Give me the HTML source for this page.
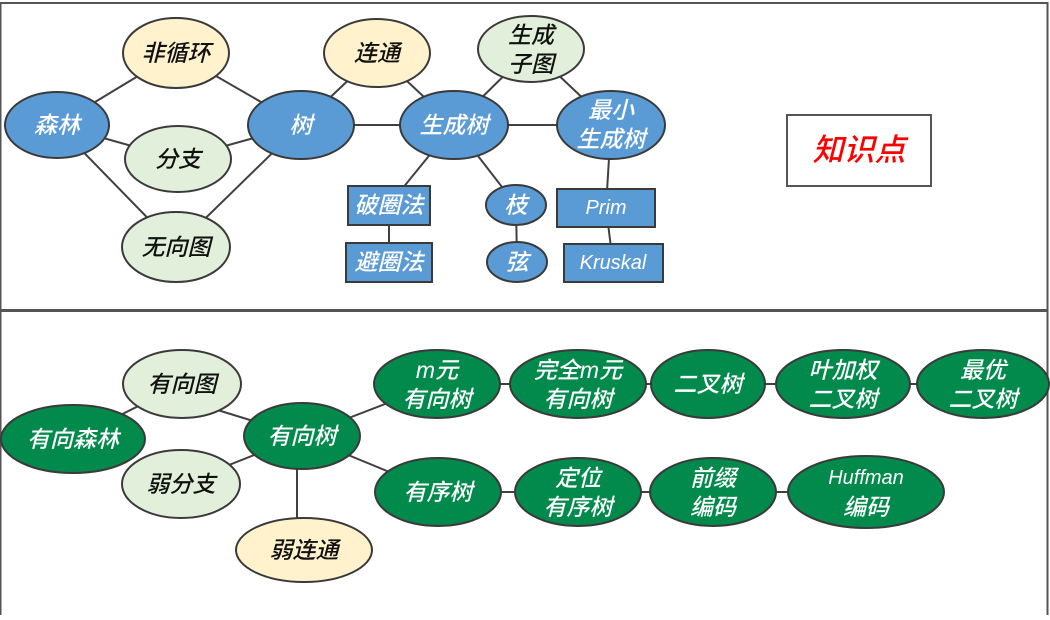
<!DOCTYPE html>
<html><head><meta charset="utf-8"><style>
body{margin:0;background:#fff;width:1050px;height:615px;overflow:hidden}
svg text{font-family:"Liberation Sans","Noto Sans CJK SC",sans-serif;font-style:italic;font-weight:500;font-size:23px;text-anchor:middle;dominant-baseline:central}
.w{fill:#fff}.k{fill:#111}
.b{fill:#5b9bd5;stroke:#3a3a3a;stroke-width:2}
.y{fill:#fff2cc;stroke:#3a3a3a;stroke-width:2}
.g{fill:#e2efda;stroke:#3a3a3a;stroke-width:2}
.n{fill:#018a4b;stroke:#3a3a3a;stroke-width:2}
line{stroke:#404040;stroke-width:2}
</style></head><body>
<svg width="1050" height="615" xmlns="http://www.w3.org/2000/svg">
<rect x="0.5" y="3" width="1047" height="307" fill="none" stroke="#555" stroke-width="2"/>
<rect x="0.5" y="311" width="1047" height="306" fill="none" stroke="#555" stroke-width="2"/>
<line x1="57" y1="125" x2="176" y2="53"/><line x1="57" y1="125" x2="178" y2="159"/><line x1="57" y1="125" x2="176" y2="247"/>
<line x1="301" y1="125" x2="176" y2="53"/><line x1="301" y1="125" x2="178" y2="159"/><line x1="301" y1="125" x2="176" y2="247"/>
<line x1="301" y1="125" x2="377" y2="53"/><line x1="301" y1="125" x2="454" y2="125"/><line x1="377" y1="53" x2="454" y2="125"/>
<line x1="531" y1="49" x2="454" y2="125"/><line x1="531" y1="49" x2="611" y2="125"/><line x1="454" y1="125" x2="611" y2="125"/>
<line x1="454" y1="125" x2="389" y2="205"/><line x1="454" y1="125" x2="516" y2="205"/>
<line x1="389" y1="205" x2="389" y2="262"/><line x1="516" y1="205" x2="517" y2="262"/>
<line x1="611" y1="125" x2="606" y2="208"/><line x1="606" y1="208" x2="613" y2="263"/>
<ellipse class="b" cx="57" cy="125" rx="52" ry="33"/><text class="w" x="57" y="125">森林</text>
<ellipse class="y" cx="176" cy="53" rx="53" ry="35"/><text class="k" x="176" y="53">非循环</text>
<ellipse class="g" cx="178" cy="159" rx="53" ry="33"/><text class="k" x="178" y="159">分支</text>
<ellipse class="g" cx="176" cy="247" rx="54" ry="35"/><text class="k" x="176" y="247">无向图</text>
<ellipse class="b" cx="301" cy="125" rx="53" ry="34"/><text class="w" x="301" y="125">树</text>
<ellipse class="y" cx="377" cy="53" rx="53" ry="34"/><text class="k" x="377" y="53">连通</text>
<ellipse class="b" cx="454" cy="125" rx="54" ry="34"/><text class="w" x="454" y="125">生成树</text>
<ellipse class="g" cx="531" cy="49" rx="53" ry="33"/><text class="k" x="531" y="35">生成</text><text class="k" x="531" y="64">子图</text>
<ellipse class="b" cx="611" cy="125" rx="54" ry="34"/><text class="w" x="611" y="110">最小</text><text class="w" x="611" y="139">生成树</text>
<rect class="b" x="348" y="186" width="82" height="39"/><text class="w" x="389" y="205">破圈法</text>
<rect class="b" x="346" y="243" width="86" height="39"/><text class="w" x="389" y="262">避圈法</text>
<ellipse class="b" cx="516" cy="205" rx="30" ry="20"/><text class="w" x="516" y="205">枝</text>
<ellipse class="b" cx="517" cy="262" rx="30" ry="20"/><text class="w" x="517" y="262">弦</text>
<rect class="b" x="557" y="189" width="98" height="38"/><text class="w" x="606" y="208" style="font-size:20px">Prim</text>
<rect class="b" x="564" y="244" width="99" height="38"/><text class="w" x="613" y="263" style="font-size:20px">Kruskal</text>
<rect x="787" y="115" width="144" height="71" fill="#fff" stroke="#555" stroke-width="2"/>
<text x="859" y="150" style="fill:#f00;font-size:31px">知识点</text>
<line x1="182" y1="384" x2="73" y2="439"/><line x1="211" y1="408" x2="302" y2="436"/>
<line x1="181" y1="484" x2="302" y2="436"/><line x1="297" y1="436" x2="297" y2="540"/>
<line x1="302" y1="436" x2="437" y2="384"/><line x1="302" y1="436" x2="438" y2="492"/>
<line x1="437" y1="384" x2="983" y2="384"/><line x1="438" y1="492" x2="866" y2="492"/>
<ellipse class="g" cx="182" cy="384" rx="59" ry="34"/><text class="k" x="182" y="384">有向图</text>
<ellipse class="n" cx="73" cy="439" rx="72" ry="34"/><text class="w" x="73" y="439">有向森林</text>
<ellipse class="g" cx="181" cy="484" rx="59" ry="34"/><text class="k" x="181" y="484">弱分支</text>
<ellipse class="n" cx="302" cy="436" rx="58" ry="33"/><text class="w" x="302" y="436">有向树</text>
<ellipse class="y" cx="304" cy="550" rx="68" ry="32"/><text class="k" x="304" y="550">弱连通</text>
<ellipse class="n" cx="437" cy="384" rx="63" ry="34"/><text class="w" x="437" y="370">m元</text><text class="w" x="437" y="399">有向树</text>
<ellipse class="n" cx="578" cy="384" rx="68" ry="34"/><text class="w" x="578" y="370">完全m元</text><text class="w" x="578" y="399">有向树</text>
<ellipse class="n" cx="708" cy="384" rx="57" ry="34"/><text class="w" x="708" y="384">二叉树</text>
<ellipse class="n" cx="843" cy="384" rx="67" ry="34"/><text class="w" x="843" y="370">叶加权</text><text class="w" x="843" y="399">二叉树</text>
<ellipse class="n" cx="983" cy="384" rx="66" ry="34"/><text class="w" x="983" y="370">最优</text><text class="w" x="983" y="399">二叉树</text>
<ellipse class="n" cx="438" cy="492" rx="63" ry="34"/><text class="w" x="438" y="492">有序树</text>
<ellipse class="n" cx="578" cy="492" rx="63" ry="34"/><text class="w" x="578" y="478">定位</text><text class="w" x="578" y="507">有序树</text>
<ellipse class="n" cx="713" cy="492" rx="63" ry="34"/><text class="w" x="713" y="478">前缀</text><text class="w" x="713" y="507">编码</text>
<ellipse class="n" cx="866" cy="492" rx="78" ry="36"/><text class="w" x="866" y="478" style="font-size:20px">Huffman</text><text class="w" x="866" y="507">编码</text>
</svg>
</body></html>
